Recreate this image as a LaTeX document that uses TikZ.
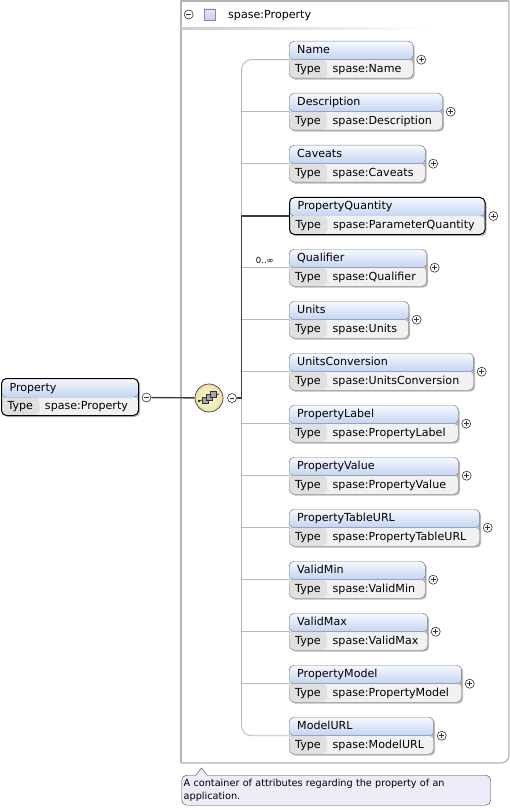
\documentclass[tikz,border=0pt]{standalone}
\usepackage{fontspec}
\setmainfont{DejaVu Sans}
\usetikzlibrary{positioning,shadows}

\definecolor{hdrtop}{HTML}{F6F9FE}
\definecolor{hdrbot}{HTML}{C3D4F2}
\definecolor{typerow}{HTML}{F1F1F1}
\definecolor{typecell}{HTML}{E0E0E0}
\definecolor{elborder}{HTML}{808080}
\definecolor{connlight}{HTML}{B8B8B8}
\definecolor{conndark}{HTML}{3C3C3C}
\definecolor{framegray}{HTML}{B4B4B4}
\definecolor{seqin}{HTML}{FFFDE8}
\definecolor{seqout}{HTML}{EBE2A2}
\definecolor{tipfill}{HTML}{EEEBF9}
\definecolor{cplxfill}{HTML}{D3CAEE}
\definecolor{cplxdraw}{HTML}{8C83B3}

\newcommand\elemfont{\fontsize{11.1}{18.5}\selectfont}
\newcommand\tipfont{\fontsize{9.7}{13.5}\selectfont}
\newcommand\hdrrow[1]{\rule[-6pt]{0pt}{18.5pt}\hspace{2pt}#1}
\newcommand\typeline[1]{\rule[-6pt]{0pt}{18.5pt}\makebox[37.5pt][l]{Type}#1}

\begin{document}
\begin{tikzpicture}[x=1pt, y=-1pt,
  elem/.style={draw=elborder, rounded corners=5pt, anchor=north west, align=left, font=\elemfont,
    inner xsep=6pt, inner ysep=0pt,
    drop shadow={shadow xshift=1.5pt, shadow yshift=-1.5pt, fill=black!45, opacity=0.6},
    path picture={
      \fill[typerow] (path picture bounding box.west) rectangle (path picture bounding box.south east);
      \fill[typecell] (path picture bounding box.west) rectangle ([xshift=38pt]path picture bounding box.south west);
      \fill[top color=hdrtop, bottom color=hdrbot] (path picture bounding box.north west) rectangle (path picture bounding box.east);
    }},
  chosen/.style={draw=black, line width=1pt},
  toggle/.style={circle, draw=black!80, fill=white, line width=.6pt, minimum size=9pt, inner sep=0pt},
  minus/.style={toggle, path picture={
      \draw[line width=.6pt] ([xshift=-2.4pt]path picture bounding box.center) -- ([xshift=2.4pt]path picture bounding box.center);}},
  plus/.style={toggle, path picture={
      \draw[line width=.6pt] ([xshift=-2.4pt]path picture bounding box.center) -- ([xshift=2.4pt]path picture bounding box.center)
        ([yshift=-2.4pt]path picture bounding box.center) -- ([yshift=2.4pt]path picture bounding box.center);}},
  seqbox/.style={circle, draw=black!75, line width=.7pt, minimum size=28pt, inner sep=0pt, inner color=seqin, outer color=seqout,
    path picture={
      \draw[black!80, line width=.7pt] ([shift={(-10pt,-3pt)}]path picture bounding box.center) -- ([shift={(10pt,4pt)}]path picture bounding box.center);
      \fill[black!80] ([shift={(-10pt,-3pt)}]path picture bounding box.center) circle[radius=1.3pt];
      \foreach \a/\b in {-7/-5,-3/-2,1/1}
        \filldraw[fill=black!35, draw=black!80, line width=.5pt] ([shift={(\a pt,\b pt)}]path picture bounding box.center) rectangle +(6pt,6pt);
    }},
  cplx/.style={rectangle, minimum size=11pt, inner sep=0pt, draw=cplxdraw, top color=cplxfill!50!white, bottom color=cplxfill},
  conn/.style={draw=connlight, line width=.9pt},
  darkconn/.style={draw=conndark, line width=1.4pt},
  framebox/.style={draw=framegray, line width=1.2pt},
  tipbox/.style={anchor=north west, draw=black!75, fill=tipfill, rounded corners=5pt, text width=305pt, minimum height=30pt,
    inner xsep=2pt, inner ysep=2pt, align=left, font=\tipfont},
  occurs/.style={font=\fontsize{8.5}{10}\selectfont, inner sep=0pt}
]
\useasboundingbox (0,0) rectangle (510,810);

% type container
\draw[framebox] (509,1) -- (181,1) -- (181,763);
\draw[framebox, rounded corners=8pt] (181,763) -- (509,763) -- (509,1);
\node[minus] (hdrminus) at (188.7,14.5) {};
\node[cplx] (hdricon) at (209.5,14.5) {};
\node[anchor=base west, font=\elemfont, inner sep=0pt] (hdrname) at (228,18.5) {spase:Property};
\fill[left color=black!20, right color=white] (181,28) rectangle (430,30);

% element and sequence
\node[elem, chosen, text width=125pt] (prop) at (1,378) {\hdrrow{Property}\\\typeline{spase:Property}};
\node[minus] (propminus) at (146.5,397.5) {};
\node[seqbox] (seq) at (209,398) {};
\node[minus] (seqminus) at (232,398) {};
\coordinate (trunk) at (241.5,398);

% children
\node[elem, text width=112pt] (name) at (289,41) {\hdrrow{Name}\\\typeline{spase:Name}};
\node[elem, text width=141.5pt] (desc) at (289,93) {\hdrrow{Description}\\\typeline{spase:Description}};
\node[elem, text width=124pt] (cav) at (289,145) {\hdrrow{Caveats}\\\typeline{spase:Caveats}};
\node[elem, chosen, text width=183.5pt] (pq) at (289,197) {\hdrrow{PropertyQuantity}\\\typeline{spase:ParameterQuantity}};
\node[elem, text width=125.5pt] (qual) at (289,249) {\hdrrow{Qualifier}\\\typeline{spase:Qualifier}};
\node[elem, text width=107.5pt] (units) at (289,301) {\hdrrow{Units}\\\typeline{spase:Units}};
\node[elem, text width=172.5pt] (uconv) at (289,353) {\hdrrow{UnitsConversion}\\\typeline{spase:UnitsConversion}};
\node[elem, text width=157pt] (plabel) at (289,405) {\hdrrow{PropertyLabel}\\\typeline{spase:PropertyLabel}};
\node[elem, text width=157.5pt] (pval) at (289,457) {\hdrrow{PropertyValue}\\\typeline{spase:PropertyValue}};
\node[elem, text width=178.5pt] (ptab) at (289,509) {\hdrrow{PropertyTableURL}\\\typeline{spase:PropertyTableURL}};
\node[elem, text width=124pt] (vmin) at (289,561) {\hdrrow{ValidMin}\\\typeline{spase:ValidMin}};
\node[elem, text width=126.5pt] (vmax) at (289,613) {\hdrrow{ValidMax}\\\typeline{spase:ValidMax}};
\node[elem, text width=160.5pt] (pmodel) at (289,665) {\hdrrow{PropertyModel}\\\typeline{spase:PropertyModel}};
\node[elem, text width=132.5pt] (murl) at (289,717) {\hdrrow{ModelURL}\\\typeline{spase:ModelURL}};

\foreach \n in {name,desc,cav,pq,qual,units,uconv,plabel,pval,ptab,vmin,vmax,pmodel,murl}
  \node[plus, right=3pt of \n] (\n-plus) {};

\node[occurs, anchor=base east] (occ) at ([shift={(-15,-4.5)}]qual.west) {0..∞};

% connectors
\draw[conn, rounded corners=10pt] (name.west) -| (trunk) |- (murl.west);
\foreach \n in {desc,cav,qual,units,uconv,plabel,pval,ptab,vmin,vmax,pmodel}
  \draw[conn] (trunk |- \n.west) -- (\n.west);
\draw[darkconn] (propminus) -- (seq);
\draw[darkconn] (seqminus) -- (trunk) |- (pq.west);

% annotation
\node[tipbox] (tip) at (181.5,775) {A container of attributes regarding the property of an\\application.};
\fill[tipfill] ([shift={(14.5,0.8)}]tip.north west) -- ([shift={(20,-7)}]tip.north west) -- ([shift={(25.5,0.8)}]tip.north west) -- cycle;
\draw[black!75] ([shift={(14.5,0)}]tip.north west) -- ([shift={(20,-7)}]tip.north west) -- ([shift={(25.5,0)}]tip.north west);
\end{tikzpicture}
\end{document}
